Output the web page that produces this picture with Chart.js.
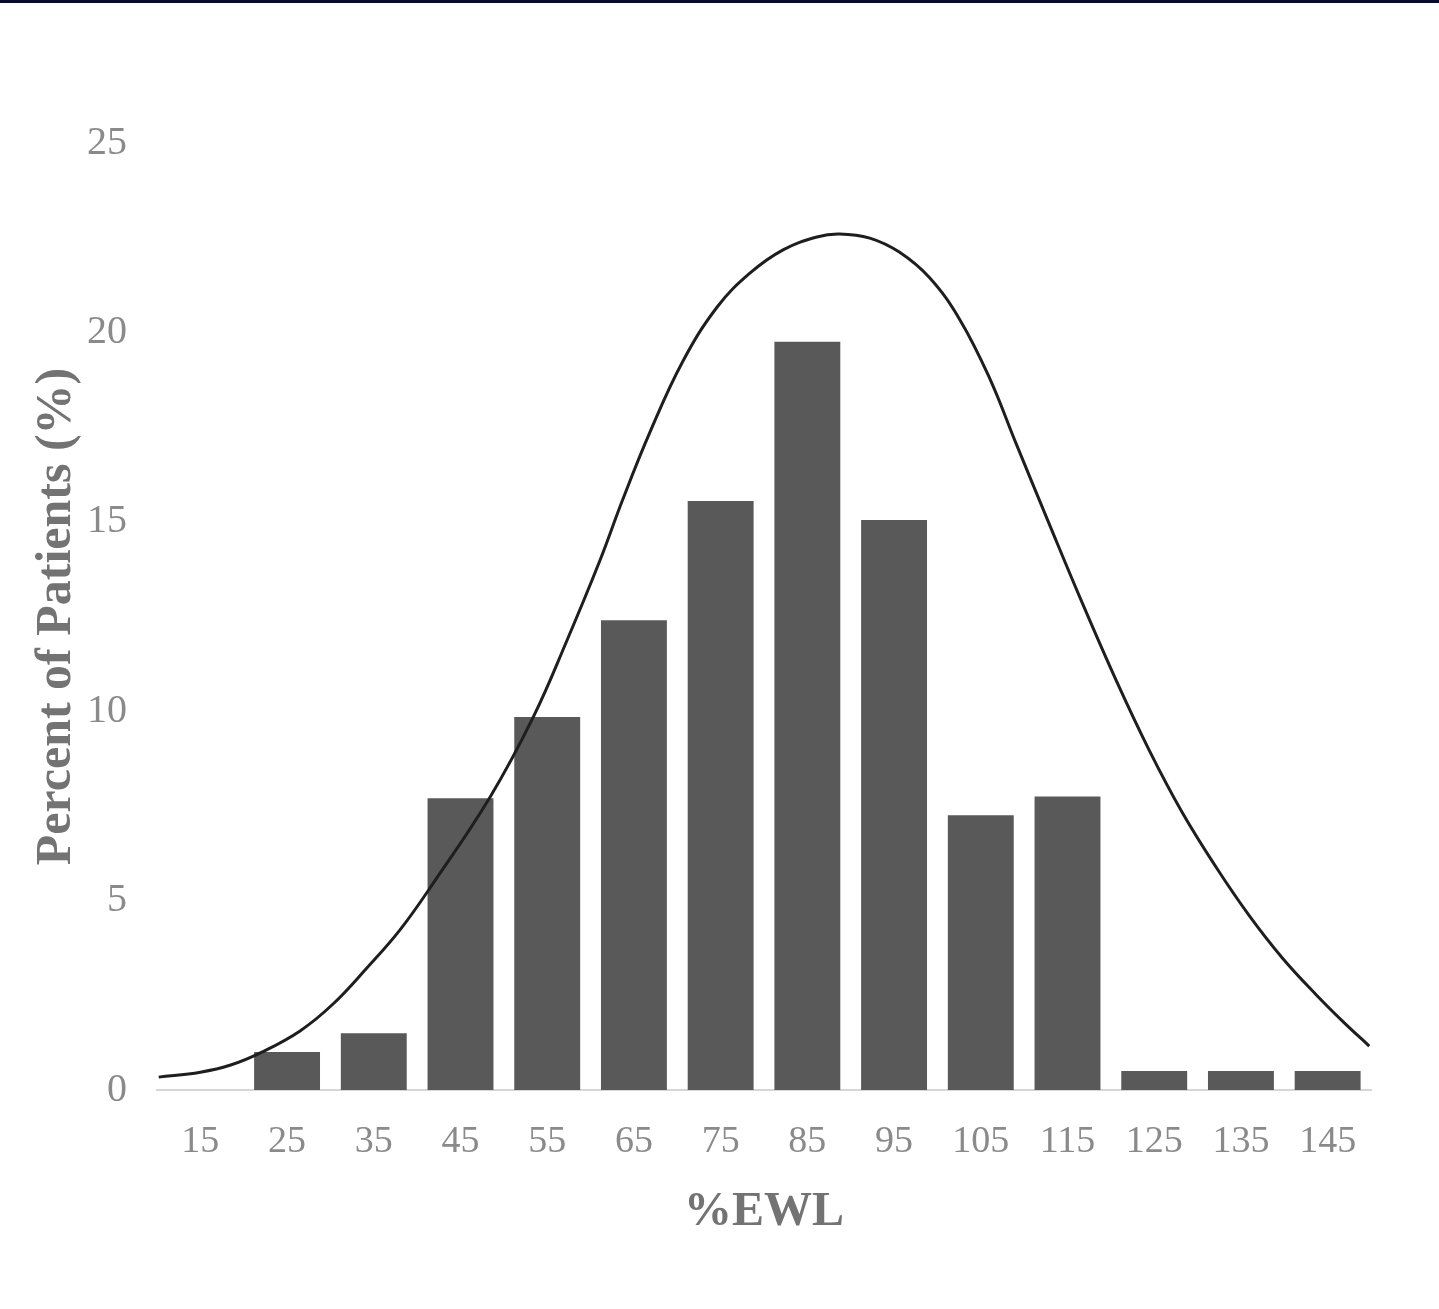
<!DOCTYPE html>
<html>
<head>
<meta charset="utf-8">
<script src="https://cdn.jsdelivr.net/npm/chart.js@4.4.1/dist/chart.umd.min.js"></script>
<style>
  html, body { margin: 0; padding: 0; background: #fff; }
  #wrap { position: relative; width: 1439px; height: 1309px; }
  #topline { position: absolute; left: 0; top: 0; width: 1439px; height: 3px; background: #0c0b2a; }
</style>
</head>
<body>
<div id="wrap">
  <canvas id="ewlChart" width="1439" height="1309"></canvas>
  <div id="topline"></div>
</div>
<script>
    // histogram bins (%EWL) and percent of patients
    const binLabels = ['15', '25', '35', '45', '55', '65', '75', '85', '95', '105', '115', '125', '135', '145'];
    const percentPatients = [0, 1.0, 1.5, 7.7, 9.85, 12.4, 15.55, 19.75, 15.05, 7.25, 7.75, 0.5, 0.5, 0.5];

    // normal curve
    const curveX = [10.2, 15.0, 18.5, 22.1, 26.5, 30.3, 34.2, 38.0, 41.8, 48.4, 53.4, 57.3, 61.1, 63.7, 66.8, 70.6,
        74.6, 78.4, 82.2, 86.1, 88.7, 92.2, 95.6, 99.1, 102.6, 106.0, 109.1, 112.9, 116.7, 120.6, 124.4, 128.2,
        132.2, 136.0, 139.8, 143.7, 146.8, 149.8];
    const curveY = [0.34, 0.47, 0.66, 1.0, 1.56, 2.27, 3.22, 4.22, 5.44, 7.73, 9.85, 11.88, 13.99, 15.58, 17.34, 19.22,
        20.67, 21.57, 22.18, 22.52, 22.6, 22.49, 22.12, 21.44, 20.33, 18.8, 17.05, 14.94, 12.86, 10.82, 8.98, 7.34,
        5.86, 4.59, 3.48, 2.51, 1.8, 1.16];

    const yTicks = [0, 5, 10, 15, 20, 25];

    const curvePoints = curveX.map(function(x, i) { return {x: x, y: curveY[i]}; });

    const tickColor = '#8a8a8a';
    const titleColor = '#737373';
    const serif = "'Liberation Serif', 'Times New Roman', serif";

    const ctx = document.getElementById('ewlChart').getContext('2d');
    const ewlChart = new Chart(ctx, {
        type: 'bar',
        data: {
            labels: binLabels,
            datasets: [{
                type: 'line',
                label: 'Normal',
                data: curvePoints,
                xAxisID: 'xc',
                borderColor: '#1e1e1e',
                borderWidth: 3,
                pointRadius: 0,
                tension: 0.4,
                fill: false,
                order: 0
            }, {
                type: 'bar',
                label: 'Percent of Patients',
                data: percentPatients,
                xAxisID: 'x',
                backgroundColor: '#595959',
                borderWidth: 0,
                grouped: false,
                categoryPercentage: 1.0,
                barPercentage: 0.76,
                order: 1
            }]
        },
        options: {
            responsive: false,
            animation: false,
            layout: {
                padding: { top: 143, right: 68, bottom: 0, left: 0 }
            },
            plugins: {
                legend: { display: false },
                tooltip: { enabled: false }
            },
            scales: {
                x: {
                    type: 'category',
                    offset: true,
                    grid: { display: false },
                    border: { display: true, color: '#d6d6d6', width: 2 },
                    ticks: {
                        color: tickColor,
                        padding: 21,
                        maxRotation: 0,
                        autoSkip: false,
                        font: { family: serif, size: 38 }
                    },
                    title: {
                        display: true,
                        text: '%EWL',
                        color: titleColor,
                        font: { family: serif, size: 48, weight: 'bold' },
                        padding: { top: 0, bottom: 68 }
                    },
                    afterFit: function(scale) { scale.height = 219; }
                },
                xc: {
                    type: 'linear',
                    display: false,
                    offset: false,
                    min: 10,
                    max: 150
                },
                y: {
                    min: 0,
                    max: 25,
                    grid: { display: false, drawTicks: false },
                    border: { display: false },
                    afterBuildTicks: function(scale) {
                        scale.ticks = yTicks.map(function(v) { return {value: v}; });
                    },
                    ticks: {
                        color: tickColor,
                        padding: 30,
                        font: { family: serif, size: 40 }
                    },
                    title: {
                        display: true,
                        text: 'Percent of Patients (%)',
                        color: titleColor,
                        font: { family: serif, size: 50, weight: 'bold' },
                        padding: { top: 27, bottom: 0 }
                    },
                    afterFit: function(scale) { scale.width = 157; }
                }
            }
        }
    });
</script>
</body>
</html>
